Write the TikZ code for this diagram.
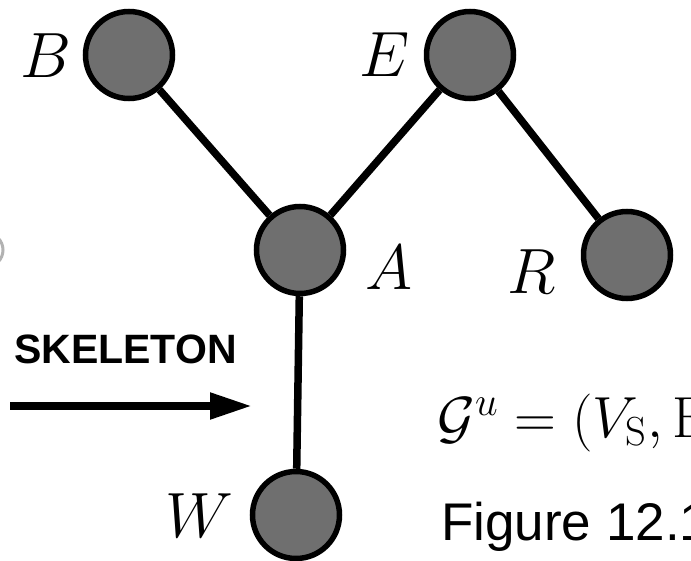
\RequirePackage{fix-cm}
\documentclass[tikz,border=0pt]{standalone}
\usepackage{fontspec}
\newfontfamily\arialfont{Liberation Sans}
\usetikzlibrary{arrows.meta}
\definecolor{nodegray}{HTML}{6F6F6F}
\tikzset{
  vert/.style={circle, draw=black, line width=5.5pt, fill=nodegray, minimum size=87pt, inner sep=0pt},
  edge/.style={line width=7.5pt, draw=black},
  lbl/.style={inner sep=0pt, font=\fontsize{64}{70}\selectfont},
}
\begin{document}
\begin{tikzpicture}[x=1pt, y=-1pt]
\useasboundingbox (0,0) rectangle (691,561);
% fragment at left edge
\draw[gray!60, line width=3pt] (-14,250) circle (17);
% vertices
\node[vert] (B) at (129,55) {};
\node[vert] (E) at (470,55) {};
\node[vert] (A) at (300,250) {};
\node[vert] (R) at (627,255) {};
\node[vert] (W) at (296,515) {};
% edges
\draw[edge] (B) -- (A);
\draw[edge] (A) -- (E);
\draw[edge] (E) -- (R);
\draw[edge] (A) -- (W);
% labels
\node[lbl] (lB) at (46,56) {$B$};
\node[lbl] (lE) at (385,55) {$E$};
\node[lbl] (lA) at (389,268) {$A$};
\node[lbl] (lR) at (532,272) {$R$};
\node[lbl] (lW) at (199,516) {$W$};
% skeleton arrow
\node[anchor=base west, inner sep=0pt, font=\arialfont\bfseries\fontsize{41}{45}\selectfont] (sk) at (14,363) {SKELETON};
\coordinate (a1) at (10,406);
\coordinate (a2) at (252,406);
\draw[line width=8pt, -{Triangle[length=42pt,width=25pt]}] (a1) -- (a2);
% formula
\node[anchor=base west, inner sep=0pt, font=\fontsize{58}{62}\selectfont] (formula) at (437,437) {$\mathcal{G}^{u} = (V_{\mathrm{S}}, \mathrm{E}_{\mathrm{S}})$};
\node[anchor=base west, inner sep=0pt, font=\arialfont\fontsize{53}{58}\selectfont] (fig) at (441,540) {Figure 12.1};
\end{tikzpicture}
\end{document}
